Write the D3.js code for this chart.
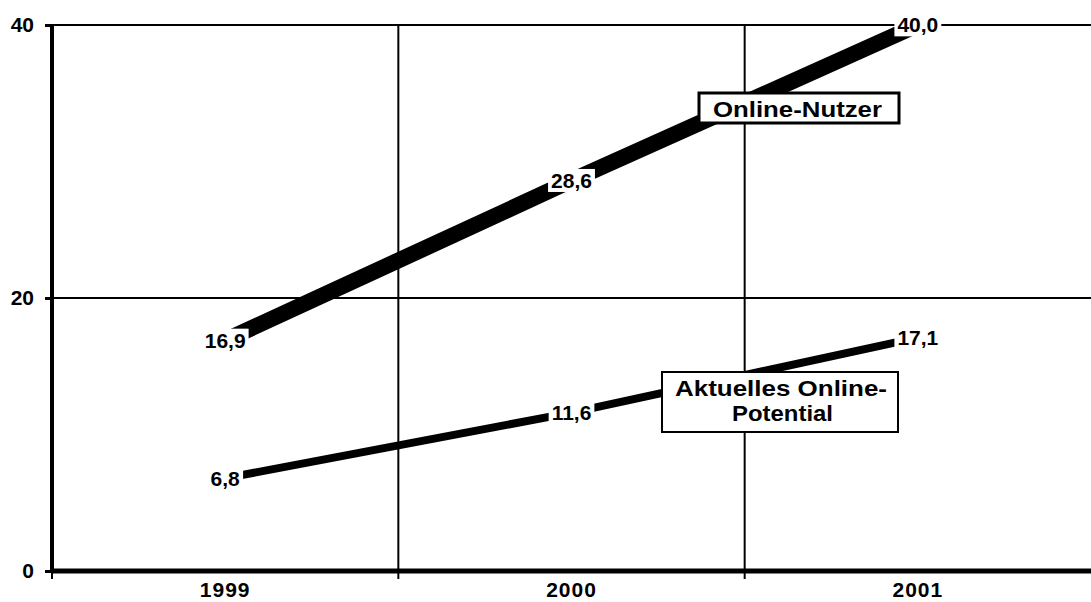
<!DOCTYPE html>
<html><head><meta charset="utf-8">
<script src="https://cdn.jsdelivr.net/npm/d3@7"></script>
<style>body{margin:0;background:#fff}svg{display:block}text{font-family:"Liberation Sans",Arial,sans-serif;font-weight:bold;fill:#000}</style>
</head><body><svg id="c" width="1091" height="602"></svg>
<script>
const years = ["1999","2000","2001"];
const nutzer = [16.9, 28.6, 40.0];
const potential = [6.8, 11.6, 17.1];
const yTicks = [0, 20, 40];
const fmt = v => v.toFixed(1).replace(".", ",");

const svg = d3.select("#c");
const L = 52, R = 1091, T = 25, B = 571;
const x = d3.scaleBand().domain(years).range([L, R]);
const y = d3.scaleLinear().domain([0, 40]).range([B, T]);
const cx = d => x(d) + x.bandwidth() / 2;

// gridlines
svg.append("g").selectAll("line").data(yTicks.filter(t => t > 0)).join("line")
  .attr("x1", L).attr("x2", R).attr("y1", d => y(d)).attr("y2", d => y(d))
  .attr("stroke", "#000").attr("stroke-width", 2);
svg.append("g").selectAll("line").data(years.slice(1)).join("line")
  .attr("x1", d => x(d)).attr("x2", d => x(d)).attr("y1", T).attr("y2", B)
  .attr("stroke", "#000").attr("stroke-width", 2);

// axes
const yAxis = svg.append("g").attr("transform", `translate(${L},0)`)
  .call(d3.axisLeft(y).tickValues(yTicks).tickSize(7).tickPadding(11));
yAxis.select(".domain").attr("stroke-width", 4).attr("d", `M0,${T - 1}V${B}`);
yAxis.selectAll(".tick line").attr("stroke-width", 3);
yAxis.selectAll(".tick text").attr("font-size", 21).attr("font-family", "Liberation Sans").attr("font-weight", "bold");

const xAxis = svg.append("g").attr("transform", `translate(0,${B})`)
  .call(d3.axisBottom(x).tickSize(0).tickPadding(11));
xAxis.select(".domain").attr("stroke-width", 5).attr("d", `M${L},0H${R}`);
xAxis.selectAll(".tick text").attr("font-size", 21).attr("font-family", "Liberation Sans").attr("font-weight", "bold")
  .attr("letter-spacing", 1);
// boundary ticks
svg.append("g").selectAll("line").data(years.map(d => x(d))).join("line")
  .attr("x1", d => d).attr("x2", d => d).attr("y1", B).attr("y2", B + 8)
  .attr("stroke", "#000").attr("stroke-width", 2);

// lines
const line = arr => d3.line().x((d, i) => cx(years[i])).y(d => y(d))(arr);
svg.append("path").attr("d", line(nutzer)).attr("fill", "none").attr("stroke", "#000").attr("stroke-width", 16);
svg.append("path").attr("d", line(potential)).attr("fill", "none").attr("stroke", "#000").attr("stroke-width", 8);

// value labels
function labels(arr) {
  const g = svg.append("g");
  arr.forEach((v, i) => {
    const t = g.append("text").attr("x", cx(years[i])).attr("y", y(v)).attr("text-anchor", "middle")
      .attr("dy", "0.35em").attr("font-size", 21).text(fmt(v));
    const bb = t.node().getBBox();
    g.insert("rect", "text").attr("x", bb.x - 3).attr("y", bb.y).attr("width", bb.width + 6).attr("height", bb.height)
      .attr("fill", "#fff");
  });
}
labels(nutzer);
labels(potential);

// series name boxes
svg.append("rect").attr("x", 699).attr("y", 93).attr("width", 200).attr("height", 30)
  .attr("fill", "#fff").attr("stroke", "#000").attr("stroke-width", 3);
svg.append("text").attr("x", 713).attr("y", 117).attr("font-size", 22)
  .attr("textLength", 169).attr("lengthAdjust", "spacingAndGlyphs").text("Online-Nutzer");

svg.append("rect").attr("x", 662).attr("y", 372).attr("width", 236).attr("height", 60)
  .attr("fill", "#fff").attr("stroke", "#000").attr("stroke-width", 2);
svg.append("text").attr("x", 675).attr("y", 396).attr("font-size", 22)
  .attr("textLength", 212).attr("lengthAdjust", "spacingAndGlyphs").text("Aktuelles Online-");
svg.append("text").attr("x", 732).attr("y", 421).attr("font-size", 22)
  .attr("textLength", 101).attr("lengthAdjust", "spacingAndGlyphs").text("Potential");
</script></body></html>
